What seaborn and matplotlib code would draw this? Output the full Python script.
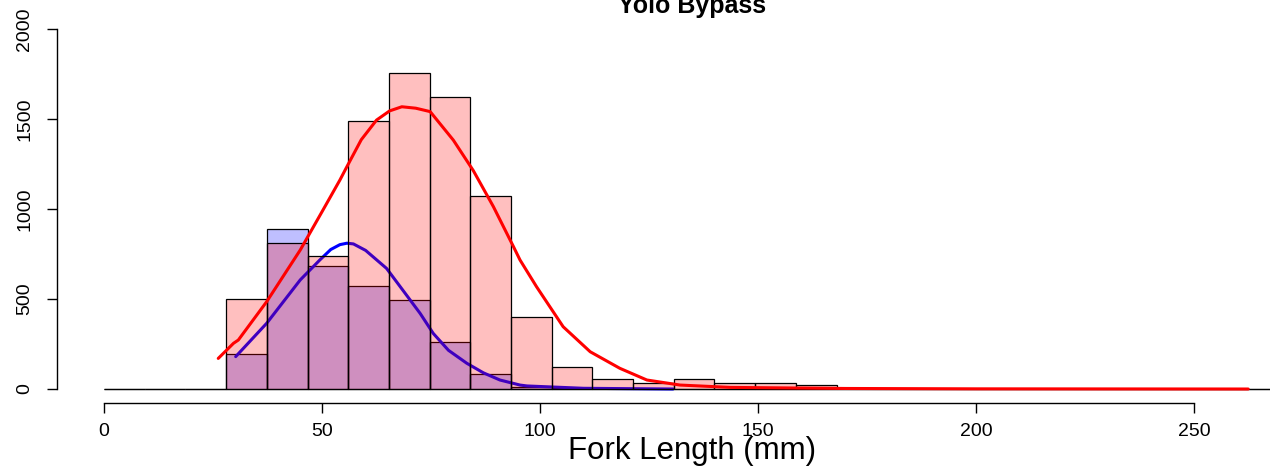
import numpy as np
import matplotlib
matplotlib.use("Agg")
import matplotlib.pyplot as plt
import seaborn as sns

# Bordes de los intervalos del histograma (mm)
bordes = [0, 9.33, 18.67, 28, 37.33, 46.67, 56, 65.33, 74.67, 84, 93.33, 102.67,
          112, 121.33, 130.67, 140, 149.33, 158.67, 168, 177.33, 186.67, 196,
          205.33, 214.67, 224, 233.33, 242.67, 252, 261.33, 270.67, 280]

# Frecuencias por intervalo
frec_rojo = [0, 0, 0, 500, 809, 737, 1490, 1754, 1622, 1072, 402, 124, 54, 32, 54,
             32, 33, 20, 0, 0, 0, 0, 0, 0, 0, 0, 0, 0, 0, 0]
frec_azul = [0, 0, 0, 194, 887, 685, 572, 494, 263, 83, 12, 4, 2, 0, 0,
             0, 0, 0, 0, 0, 0, 0, 0, 0, 0, 0, 0, 0, 0, 0]

# Curvas de densidad escaladas
curva_rojo_x = [26.2, 29.7, 30.8, 37.3, 45, 50, 54.1, 55.7, 59, 62.5, 65.5, 68.3, 71.5,
                74.8, 80.1, 84.7, 89.3, 93.9, 95.4, 99.2, 105.3, 111.5, 118.3, 124.5,
                132.1, 143.6, 170, 200, 262.4]
curva_rojo_y = [170, 254, 272, 485, 772, 985, 1161, 1235, 1385, 1494, 1545, 1568, 1560,
                1541, 1383, 1213, 1013, 791, 717, 568, 346, 207, 115, 50,
                22, 9, 3, 1, 0]
curva_azul_x = [30.2, 37.3, 45, 49.5, 52, 54.1, 55.7, 57.2, 60, 64.8, 68.5, 72.5, 75.5,
                79, 83.2, 87, 90.8, 95.4, 97, 110, 130.5]
curva_azul_y = [180, 365, 606, 717, 775, 802, 810, 806, 770, 670, 550, 420, 309,
                215, 143, 90, 50, 22, 17, 4, 0]

x_ticks = [0, 50, 100, 150, 200, 250]
y_ticks = [0, 500, 1000, 1500, 2000]

sns.set_style("white")
plt.rcParams["font.family"] = ["Liberation Sans", "DejaVu Sans"]
plt.rcParams["text.color"] = "black"

centros = (np.array(bordes[:-1]) + np.array(bordes[1:])) / 2

W, H = 1270, 467
fig = plt.figure(figsize=(W / 100, H / 100), dpi=100)
ax = fig.add_axes([57 / W, 1 - 403 / H, 1 - 57 / W, (403 - 29) / H])

# Primero el grupo azul, luego el rojo encima
sns.histplot(x=centros, weights=frec_azul, bins=bordes, color="blue", alpha=0.25,
             edgecolor="black", linewidth=0.9, zorder=1, ax=ax)
sns.lineplot(x=curva_azul_x, y=curva_azul_y, color="blue", linewidth=2.2, zorder=2, ax=ax)
sns.histplot(x=centros, weights=frec_rojo, bins=bordes, color="red", alpha=0.25,
             edgecolor="black", linewidth=0.9, zorder=3, ax=ax)
sns.lineplot(x=curva_rojo_x, y=curva_rojo_y, color="red", linewidth=2.2, zorder=4, ax=ax)

ax.set_xlim(-10.78, 267.4)
ax.set_ylim(-77.7, 2000)
ax.set_xticks(x_ticks)
ax.set_yticks(y_ticks)
ax.set_xlabel("")
ax.set_ylabel("")

for lado in ["top", "right"]:
    ax.spines[lado].set_visible(False)
ax.spines["left"].set_bounds(0, 2000)
ax.spines["bottom"].set_bounds(0, 250)
for lado in ["left", "bottom"]:
    ax.spines[lado].set_color("black")
    ax.spines[lado].set_linewidth(1)

ax.tick_params(axis="both", direction="out", length=7.2, width=1, color="black",
               labelcolor="black", labelsize=14, left=True, bottom=True)
ax.tick_params(axis="x", pad=7)
ax.tick_params(axis="y", labelrotation=90, pad=10)
for lab in ax.get_yticklabels():
    lab.set_va("center")

fig.text(692 / W, 1 - 13 / H, "Yolo Bypass", ha="center", va="baseline",
         fontsize=18, fontweight="bold", color="black")
fig.text(692 / W, 1 - 459 / H, "Fork Length (mm)", ha="center", va="baseline",
         fontsize=22.5, color="black")

plt.savefig("out.png", dpi=100)
plt.close()
